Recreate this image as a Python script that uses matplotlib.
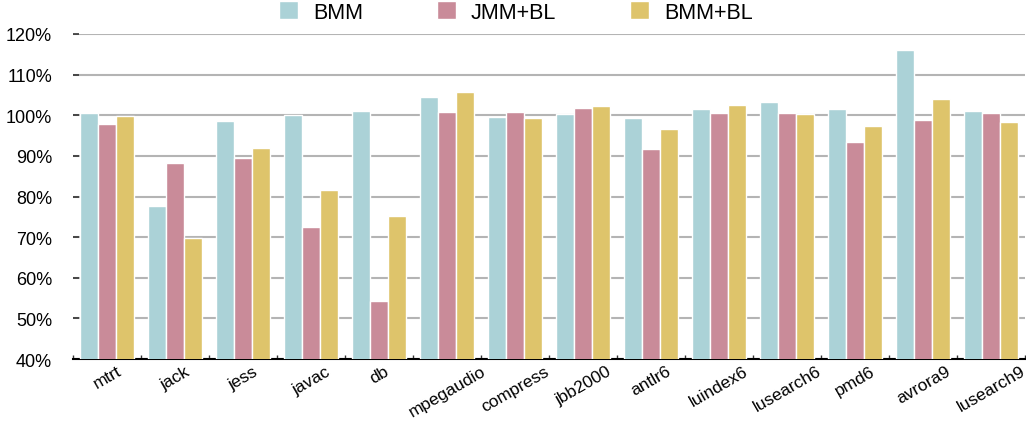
import matplotlib
matplotlib.use("Agg")
import matplotlib.pyplot as plt
import numpy as np

plt.rcParams['font.family'] = ['Liberation Sans', 'DejaVu Sans']

# benchmark names
benchmarks = ['mtrt', 'jack', 'jess', 'javac', 'db', 'mpegaudio', 'compress',
              'jbb2000', 'antlr6', 'luindex6', 'lusearch6', 'pmd6', 'avrora9', 'lusearch9']

# relative performance (%)
bmm = [100.5, 77.7, 98.6, 100.1, 101.0, 104.5, 99.6, 100.2, 99.3, 101.5, 103.2, 101.5, 116.1, 101.0]
jmm_bl = [97.8, 88.2, 89.5, 72.5, 54.3, 100.8, 100.8, 101.8, 91.7, 100.6, 100.6, 93.4, 98.8, 100.6]
bmm_bl = [99.9, 69.8, 91.9, 81.6, 75.2, 105.7, 99.3, 102.3, 96.6, 102.5, 100.2, 97.4, 104.1, 98.3]

series = [('BMM', bmm, '#abd2d7'), ('JMM+BL', jmm_bl, '#c98b99'), ('BMM+BL', bmm_bl, '#dec46b')]

fig = plt.figure(figsize=(10.26, 4.31), dpi=100)
ax = fig.add_axes([0.0712, 0.1647, 0.928, 0.7541])

x = np.arange(len(benchmarks)) + 0.5
w = 0.265
for k, (name, vals, col) in enumerate(series):
    ax.bar(x + (k - 1) * w, vals, width=w, color=col, edgecolor='white',
           linewidth=1, label=name, zorder=3)

ax.set_xlim(0, len(benchmarks))
ax.set_ylim(40, 120)
ax.set_yticks(np.arange(40, 121, 10))
ax.set_yticklabels([f'{v}%' for v in range(40, 121, 10)], fontsize=13)
ax.yaxis.grid(True, color='#b4b4b4', linewidth=1.5, zorder=0)
ax.set_axisbelow(True)

# boundary ticks on x, labels in between
ax.set_xticks(np.arange(len(benchmarks) + 1))
ax.set_xticklabels([])
ax.set_xticks(x, minor=True)
ax.set_xticklabels(benchmarks, minor=True, rotation=30, ha='center', fontsize=12.5)
ax.tick_params(axis='x', which='major', direction='in', length=3, width=1, color='#333333')
ax.tick_params(axis='x', which='minor', length=0, pad=3)
ax.tick_params(axis='y', direction='in', length=4, width=1.2, color='#333333', pad=15)

for s in ['top', 'right', 'left']:
    ax.spines[s].set_visible(False)
ax.spines['bottom'].set_linewidth(1.5)

ax.legend(loc='lower center', bbox_to_anchor=(0.465, 0.995), ncol=3, frameon=False,
          fontsize=15.5, handlelength=0.9, handleheight=0.9, columnspacing=3.4,
          handletextpad=0.7, borderaxespad=0.2)

fig.savefig('out.png', dpi=100)
